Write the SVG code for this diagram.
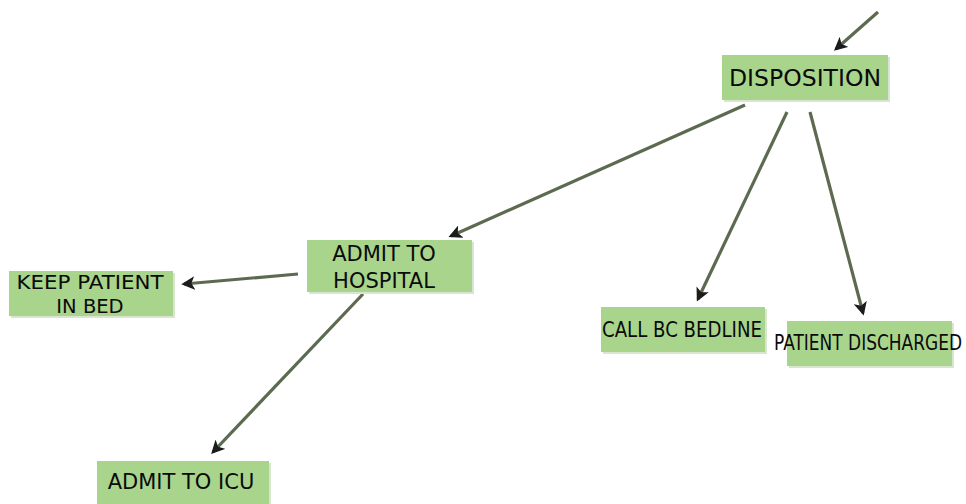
<svg xmlns="http://www.w3.org/2000/svg" width="966" height="504" viewBox="0 0 966 504">
  <defs>
    <marker id="arrow" viewBox="0 0 10 10" refX="8" refY="5" markerWidth="4.2" markerHeight="4.2" orient="auto" markerUnits="strokeWidth">
      <path d="M0,0 L10,5 L0,10 L2.5,5 Z" fill="#1a1a1a"/>
    </marker>
    <filter id="soft" x="-5%" y="-5%" width="110%" height="110%">
      <feGaussianBlur stdDeviation="0.5"/>
    </filter>
  </defs>
  <style>
    .box { fill: #a9d48b; }
    .shadow { fill: #d9e6cf; }
    .label { font-family: "DejaVu Sans", "Liberation Sans", sans-serif; fill: #0a0a0a; text-anchor: middle; }
    .edge { stroke: #5c6a50; stroke-width: 3.2; fill: none; marker-end: url(#arrow); }
  </style>
  <rect width="966" height="504" fill="#ffffff"/>

  <g id="connectors" filter="url(#soft)">
    <line class="edge" x1="878" y1="12" x2="836" y2="49"/>
    <line class="edge" x1="745" y1="105" x2="451" y2="236"/>
    <line class="edge" x1="787" y1="112" x2="698" y2="299"/>
    <line class="edge" x1="810" y1="112" x2="863" y2="313"/>
    <line class="edge" x1="298" y1="274" x2="184" y2="284"/>
    <line class="edge" x1="363" y1="294" x2="213" y2="452"/>
  </g>

  <g id="disposition">
    <rect class="shadow" x="724" y="57" width="166" height="45"/>
    <rect class="box" x="722" y="55" width="166" height="45"/>
    <text class="label" x="805" y="86" font-size="23.5" textLength="152" lengthAdjust="spacingAndGlyphs">DISPOSITION</text>
  </g>

  <g id="admit-hospital">
    <rect class="shadow" x="309" y="242" width="165" height="52"/>
    <rect class="box" x="307" y="240" width="165" height="52"/>
    <text class="label" x="384" y="261" font-size="21">ADMIT TO</text>
    <text class="label" x="384" y="288" font-size="21">HOSPITAL</text>
  </g>

  <g id="keep-patient">
    <rect class="shadow" x="11" y="273" width="164" height="45"/>
    <rect class="box" x="9" y="271" width="164" height="45"/>
    <text class="label" x="90" y="289" font-size="19.5" textLength="147" lengthAdjust="spacingAndGlyphs">KEEP PATIENT</text>
    <text class="label" x="90" y="313" font-size="19.5">IN BED</text>
  </g>

  <g id="call-bedline">
    <rect class="shadow" x="603" y="309" width="164" height="45"/>
    <rect class="box" x="601" y="307" width="164" height="45"/>
    <text class="label" x="682" y="337" font-size="20.5" textLength="160" lengthAdjust="spacingAndGlyphs">CALL BC BEDLINE</text>
  </g>

  <g id="patient-discharged">
    <rect class="shadow" x="789" y="323" width="165" height="45"/>
    <rect class="box" x="787" y="321" width="165" height="45"/>
    <text class="label" x="868" y="349.5" font-size="21" textLength="188" lengthAdjust="spacingAndGlyphs">PATIENT DISCHARGED</text>
  </g>

  <g id="admit-icu">
    <rect class="shadow" x="99" y="463" width="172" height="45"/>
    <rect class="box" x="97" y="461" width="172" height="45"/>
    <text class="label" x="181" y="489" font-size="21">ADMIT TO ICU</text>
  </g>
</svg>
